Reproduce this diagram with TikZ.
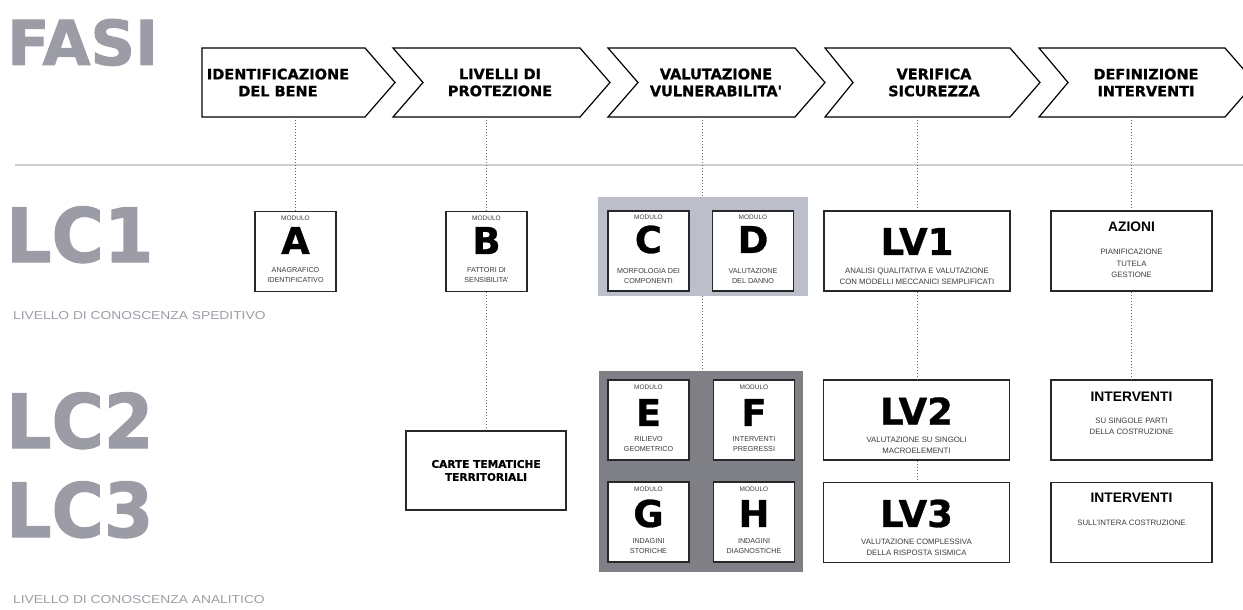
\documentclass[tikz,border=0pt]{standalone}
\usepackage{fontspec}
\setmainfont{Liberation Sans}
\newfontfamily\heavy{DejaVu Sans}[UprightFont={* Bold}, FakeBold=0.8]
\newfontfamily\bigfont{DejaVu Sans}[UprightFont={* Bold}, FakeStretch=0.95, FakeBold=1.5]
\newfontfamily\fasifont{DejaVu Sans}[UprightFont={* Bold}, FakeBold=1.5]
\newfontfamily\widesans{Liberation Sans}[FakeStretch=1.2]
\definecolor{biggray}{RGB}{156,156,166}
\definecolor{lightgrp}{RGB}{188,191,202}
\definecolor{darkgrp}{RGB}{126,128,134}
\definecolor{rulegray}{RGB}{208,208,208}
\definecolor{boxline}{RGB}{40,40,40}
\definecolor{smalltext}{RGB}{60,60,60}
\begin{document}
\begin{tikzpicture}[x=1pt,y=-1pt,
  chev/.style={draw=black, line width=1.2pt, fill=white, line join=miter},
  mbox/.style={draw=boxline, line width=1.5pt, fill=white, inner sep=0, minimum width=81pt, minimum height=80pt},
  wbox/.style={draw=boxline, line width=1.5pt, fill=white, inner sep=0, minimum width=186pt, minimum height=80pt},
  abox/.style={draw=boxline, line width=1.5pt, fill=white, inner sep=0, minimum width=161pt, minimum height=80pt},
  grp/.style={inner sep=0, draw=none},
  phase/.style={font=\heavy\fontsize{14.5}{17}\selectfont, align=center, inner sep=0},
  bigl/.style={font=\bigfont\fontsize{75}{75}\selectfont, text=biggray, anchor=base west, inner sep=0},
  lvl/.style={font=\widesans\fontsize{11.5}{12}\selectfont, text=biggray, anchor=west, inner sep=0},
  letter/.style={font=\heavy\fontsize{37}{37}\selectfont, inner sep=0},
  modlab/.style={font=\fontsize{6.5}{7}\selectfont, inner sep=0, text=smalltext},
  small/.style={font=\fontsize{7.2}{10}\selectfont, align=center, inner sep=0, text=smalltext},
  sub/.style={font=\fontsize{7.8}{11.2}\selectfont, align=center, inner sep=0, text=smalltext},
  ttl/.style={font=\bfseries\fontsize{13.8}{14}\selectfont, inner sep=0},
  carte/.style={font=\heavy\fontsize{10.6}{13}\selectfont, align=center, inner sep=0},
  dotline/.style={draw=black!60, line width=0.9pt, dash pattern=on 0.9pt off 2.1pt}
]
\useasboundingbox (0,0) rectangle (1243,610);
\clip (0,0) rectangle (1243,610);

% big gray labels
\node[bigl, font=\fasifont\fontsize{62}{62}\selectfont] (fasi) at (7,65) {FASI};
\node[bigl] (lc1) at (6,262) {LC1};
\node[bigl] (lc2) at (6,448) {LC2};
\node[bigl] (lc3) at (6,537) {LC3};
\node[lvl] (spe) at (13,316) {LIVELLO DI CONOSCENZA SPEDITIVO};
\node[lvl] (ana) at (13,600) {LIVELLO DI CONOSCENZA ANALITICO};

% rule
\coordinate (r1) at (15,165);
\coordinate (r2) at (1243,165);
\draw[rulegray, line width=1.5pt] (r1) -- (r2);

% chevrons
\draw[chev] (202,48) -- (365,48) -- (395,82.5) -- (365,117) -- (202,117) -- cycle;
\draw[chev] (393,48) -- (580,48) -- (610,82.5) -- (580,117) -- (393,117) -- (423,82.5) -- cycle;
\draw[chev] (608,48) -- (795,48) -- (825,82.5) -- (795,117) -- (608,117) -- (638,82.5) -- cycle;
\draw[chev] (825,48) -- (1010,48) -- (1040,82.5) -- (1010,117) -- (825,117) -- (853,82.5) -- cycle;
\draw[chev] (1039,48) -- (1225,48) -- (1255,82.5) -- (1225,117) -- (1039,117) -- (1068,82.5) -- cycle;

\node[phase] (ph1) at (278,82.5) {IDENTIFICAZIONE\\DEL BENE};
\node[phase] (ph2) at (500,82.5) {LIVELLI DI\\PROTEZIONE};
\node[phase] (ph3) at (716,82.5) {VALUTAZIONE\\VULNERABILITA'};
\node[phase] (ph4) at (934,82.5) {VERIFICA\\SICUREZZA};
\node[phase] (ph5) at (1146,82.5) {DEFINIZIONE\\INTERVENTI};

\coordinate (c1) at (295.5,117);
\coordinate (c2) at (486.5,117);
\coordinate (c3) at (702,117);
\coordinate (c4) at (917,117);
\coordinate (c5) at (1131.5,117);

% groups
\node[grp, fill=lightgrp, minimum width=210pt, minimum height=99pt] (CD) at (703,246.5) {};
\node[grp, fill=darkgrp, minimum width=204pt, minimum height=201pt] (EFGH) at (701,471.5) {};

% connectors
\draw[dotline] (c1) -- (c1 |- 0,211);
\draw[dotline] (c2) -- (c2 |- 0,211);
\draw[dotline] (c3) -- (c3 |- CD.north);
\draw[dotline] (c4) -- (c4 |- 0,211);
\draw[dotline] (c5) -- (c5 |- 0,211);

% module boxes
\node[mbox] (A) at (295.5,251.5) {};
\node[mbox] (B) at (486.5,251.5) {};
\node[mbox] (C) at (648.5,251) {};
\node[mbox] (D) at (753,251) {};
\node[mbox] (E) at (648.5,420) {};
\node[mbox] (F) at (754,420) {};
\node[mbox] (G) at (648.5,522) {};
\node[mbox] (H) at (754,522) {};

\node[wbox] (LV1) at (917,251) {};
\node[wbox] (LV2) at (916.5,420) {};
\node[wbox] (LV3) at (916.5,522.5) {};
\node[abox] (AZ) at (1131.5,251) {};
\node[abox] (I1) at (1131.5,420) {};
\node[abox] (I2) at (1131.5,522.5) {};
\node[abox, minimum width=160pt, minimum height=79pt] (CT) at (486,470.5) {};

\draw[dotline] (B.south) -- (B.south |- CT.north);
\draw[dotline] (CD.south -| c3) -- (c3 |- EFGH.north);
\draw[dotline] (LV1.south -| c4) -- (c4 |- LV2.north);
\draw[dotline] (LV2.south -| c4) -- (c4 |- LV3.north);
\draw[dotline] (AZ.south) -- (I1.north);

% module contents
\node[modlab] (mA) at (295.5,218) {MODULO};
\node[letter] (lA) at (295.5,240.5) {A};
\node[small] (tA) at (295.5,275) {ANAGRAFICO\\IDENTIFICATIVO};

\node[modlab] (mB) at (486.5,218) {MODULO};
\node[letter] (lB) at (486.5,240.5) {B};
\node[small] (tB) at (486.5,275) {FATTORI DI\\SENSIBILITA'};

\node[modlab] (mC) at (648.5,217) {MODULO};
\node[letter] (lC) at (648.5,239.5) {C};
\node[small] (tC) at (648.5,276) {MORFOLOGIA DEI\\COMPONENTI};

\node[modlab] (mD) at (753,217) {MODULO};
\node[letter] (lD) at (753,239.5) {D};
\node[small] (tD) at (753,276) {VALUTAZIONE\\DEL DANNO};

\node[modlab] (mE) at (648.5,387) {MODULO};
\node[letter] (lE) at (648.5,412.5) {E};
\node[small] (tE) at (648.5,444) {RILIEVO\\GEOMETRICO};

\node[modlab] (mF) at (754,387) {MODULO};
\node[letter] (lF) at (754,412.5) {F};
\node[small] (tF) at (754,444) {INTERVENTI\\PREGRESSI};

\node[modlab] (mG) at (648.5,489) {MODULO};
\node[letter] (lG) at (648.5,513.5) {G};
\node[small] (tG) at (648.5,546.5) {INDAGINI\\STORICHE};

\node[modlab] (mH) at (754,489) {MODULO};
\node[letter] (lH) at (754,513.5) {H};
\node[small] (tH) at (754,546.5) {INDAGINI\\DIAGNOSTICHE};

% LV contents
\node[letter] (lv1) at (917,241.5) {LV1};
\node[sub] (tlv1) at (917,276.5) {ANALISI QUALITATIVA E VALUTAZIONE\\CON MODELLI MECCANICI SEMPLIFICATI};
\node[letter] (lv2) at (916.5,411) {LV2};
\node[sub] (tlv2) at (916.5,445.5) {VALUTAZIONE SU SINGOLI\\MACROELEMENTI};
\node[letter] (lv3) at (916.5,513.5) {LV3};
\node[sub] (tlv3) at (916.5,547.5) {VALUTAZIONE COMPLESSIVA\\DELLA RISPOSTA SISMICA};

% interventions
\node[ttl] (az) at (1131.5,227) {AZIONI};
\node[sub] (taz) at (1131.5,263.5) {PIANIFICAZIONE\\TUTELA\\GESTIONE};
\node[ttl] (i1) at (1131.5,397) {INTERVENTI};
\node[sub] (ti1) at (1131.5,426.5) {SU SINGOLE PARTI\\DELLA COSTRUZIONE};
\node[ttl] (i2) at (1131.5,498) {INTERVENTI};
\node[sub] (ti2) at (1131.5,523) {SULL'INTERA COSTRUZIONE};

\node[carte] (ct) at (486,470.5) {CARTE TEMATICHE\\TERRITORIALI};
\end{tikzpicture}
\end{document}
